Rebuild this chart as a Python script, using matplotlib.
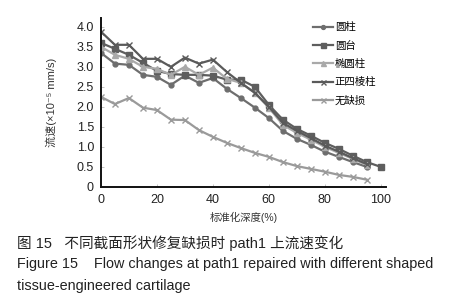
import matplotlib
matplotlib.use("Agg")
import matplotlib.pyplot as plt

plt.rcParams['font.family'] = ['Liberation Sans', 'Noto Sans CJK SC', 'DejaVu Sans']

depth95 = [0, 5, 10, 15, 20, 25, 30, 35, 40, 45, 50, 55, 60, 65, 70, 75, 80, 85, 90, 95]
depth100 = depth95 + [100]

yuanzhu = [3.35, 3.08, 3.05, 2.8, 2.75, 2.55, 2.78, 2.6, 2.72, 2.45, 2.22, 1.98, 1.72, 1.4, 1.2, 1.05, 0.88, 0.75, 0.62, 0.5]
yuantai = [3.6, 3.45, 3.3, 3.1, 2.9, 2.82, 2.8, 2.8, 2.78, 2.68, 2.68, 2.5, 2.05, 1.68, 1.45, 1.28, 1.1, 0.95, 0.78, 0.62, 0.5]
tuoyuan = [3.5, 3.3, 3.2, 3.0, 2.95, 2.8, 3.0, 2.8, 2.98, 2.7, 2.6, 2.35, 1.98, 1.55, 1.35, 1.18, 1.0, 0.85, 0.7, 0.55]
silengzhu = [3.88, 3.55, 3.55, 3.2, 3.2, 3.0, 3.23, 3.08, 3.18, 2.87, 2.6, 2.35, 2.0, 1.6, 1.4, 1.22, 1.03, 0.88, 0.72, 0.57]
wuquesun = [2.25, 2.07, 2.22, 1.98, 1.92, 1.68, 1.67, 1.42, 1.25, 1.1, 0.97, 0.85, 0.75, 0.62, 0.52, 0.45, 0.38, 0.3, 0.25, 0.18]

labels = ['圆柱', '圆台', '椭圆柱', '正四棱柱', '无缺损']
xticks = [0, 20, 40, 60, 80, 100]
yticks = [0, 0.5, 1.0, 1.5, 2.0, 2.5, 3.0, 3.5, 4.0]
yticklabels = ['0', '0.5', '1.0', '1.5', '2.0', '2.5', '3.0', '3.5', '4.0']

fig = plt.figure(figsize=(4.65, 3.0), dpi=100)
ax = fig.add_axes([0.217, 0.377, 0.614, 0.563])

ax.plot(depth95, yuanzhu, color='#6e6e6e', lw=1.6, marker='o', ms=3.5, label=labels[0])
ax.plot(depth100, yuantai, color='#5e5e5e', lw=1.6, marker='s', ms=4.5, label=labels[1])
ax.plot(depth95, tuoyuan, color='#a9a9a9', lw=1.6, marker='^', ms=4.5, label=labels[2])
ax.plot(depth95, silengzhu, color='#5a5a5a', lw=1.6, marker='x', ms=4.5, mew=1.0, label=labels[3])
ax.plot(depth95, wuquesun, color='#9a9a9a', lw=1.6, marker='x', ms=4.5, mew=1.0, label=labels[4])

ax.set_xlim(0, 102)
ax.set_ylim(0, 4.22)
ax.set_xticks(xticks)
ax.set_yticks(yticks)
ax.set_yticklabels(yticklabels)
ax.tick_params(direction='in', length=2, width=0.6, color='#bbbbbb', labelsize=9, labelcolor='#222222', pad=5)
for s in ['top', 'right']:
    ax.spines[s].set_visible(False)
for s in ['left', 'bottom']:
    ax.spines[s].set_linewidth(1.4)
    ax.spines[s].set_color('#111111')

ax.set_xlabel('标准化深度(%)', fontsize=7.5, color='#333333', labelpad=4)
ax.set_ylabel('流速(×10⁻⁵ mm/s)', fontsize=8, color='#333333', labelpad=14)

leg = ax.legend(loc='upper left', bbox_to_anchor=(0.73, 1.0), frameon=False, fontsize=7.5,
                handlelength=1.9, handletextpad=0.15, labelspacing=0.8, markerscale=0.8,
                borderaxespad=0.0)

fig.text(0.037, 0.19, '图 15   不同截面形状修复缺损时 path1 上流速变化', fontsize=10.5, color='#222222', va='center')
fig.text(0.037, 0.12, 'Figure 15    Flow changes at path1 repaired with different shaped', fontsize=10.4, color='#222222', va='center')
fig.text(0.037, 0.048, 'tissue-engineered cartilage', fontsize=10.4, color='#222222', va='center')

fig.savefig('out.png', dpi=100)
